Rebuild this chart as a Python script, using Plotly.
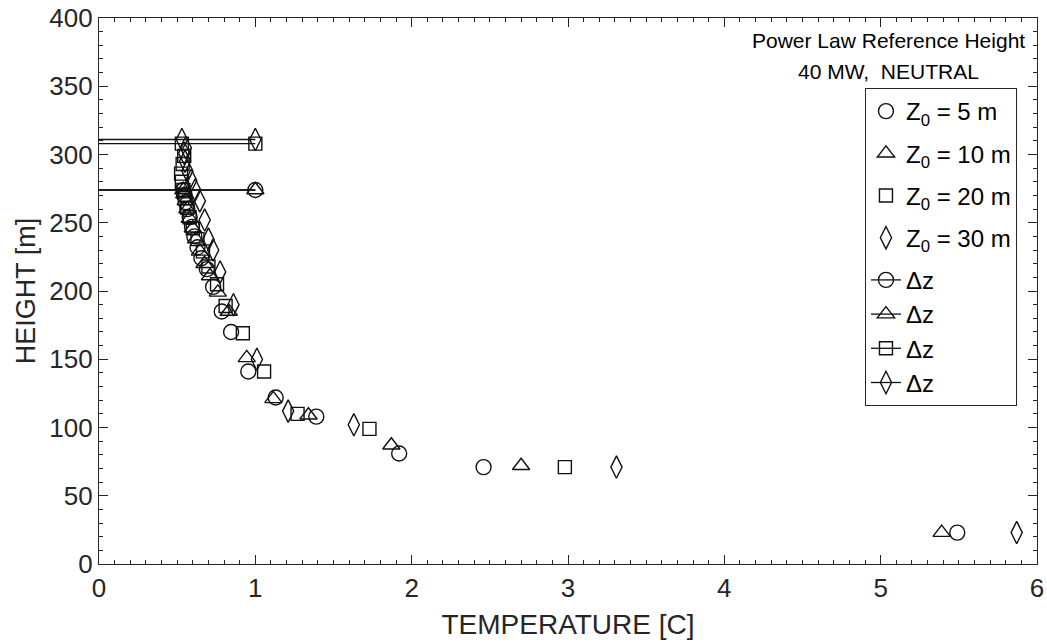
import plotly.graph_objects as go

# ---------------- data ----------------
z5_temp = [5.49, 2.46, 1.92, 1.39, 1.13, 0.955, 0.845, 0.785, 0.73, 0.69, 0.655,
           0.63, 0.61, 0.595, 0.58, 0.565, 0.555, 0.545, 0.54]
z5_height = [23, 71, 81, 108, 122, 141, 170, 185, 203, 216, 224,
             232, 240, 247, 254, 260, 265, 270, 274]

z10_temp = [5.39, 2.70, 1.87, 1.34, 1.115, 0.945, 0.83, 0.76, 0.71, 0.675, 0.645,
            0.62, 0.60, 0.58, 0.565, 0.555, 0.545, 0.54]
z10_height = [23, 72, 87, 109, 121, 151, 185, 199, 211, 220, 229,
              238, 246, 253, 260, 266, 271, 274]

z20_temp = [2.98, 1.73, 1.27, 1.056, 0.92, 0.81, 0.755, 0.70, 0.665, 0.63, 0.60,
            0.58, 0.565, 0.55, 0.54, 0.53, 0.525, 0.535, 0.545, 0.53]
z20_height = [71, 99, 110, 141, 169, 189, 205, 218, 229, 238, 246,
              254, 261, 268, 274, 280, 286, 293, 299, 308]

z30_temp = [5.87, 3.31, 1.63, 1.21, 1.01, 0.86, 0.775, 0.73, 0.70, 0.676, 0.645,
            0.615, 0.59, 0.565, 0.55, 0.545, 0.555, 0.53]
z30_height = [23, 71, 102, 112, 150, 190, 214, 230, 238, 252, 266,
              274, 281, 288, 295, 301, 305, 311]

# reference-height (delta z) lines: from T=0 to T=1 at each series' top height
dz_temp = [0, 1]
dz_heights = [274, 274, 308, 311]

series_names = ["Z<sub>0</sub> = 5 m", "Z<sub>0</sub> = 10 m",
                "Z<sub>0</sub> = 20 m", "Z<sub>0</sub> = 30 m"]
dz_name = "Δz"
annot_lines = ["Power Law Reference Height", "40 MW,\u00a0 NEUTRAL"]

x_ticks = [0, 1, 2, 3, 4, 5, 6]
y_ticks = [0, 50, 100, 150, 200, 250, 300, 350, 400]

# ---------------- styling ----------------
INK = "#262626"
MK = "#111111"
symbols = ["circle-open", "triangle-up-open", "square-open", "diamond-tall-open"]
sizes = [15, 15, 13, 16]
FONT = "Liberation Sans, Arial, Helvetica, sans-serif"

fig = go.Figure()

temps = [z5_temp, z10_temp, z20_temp, z30_temp]
heights = [z5_height, z10_height, z20_height, z30_height]
groups = ["a", "b", "c", "d"]

for t, h, name, sym, sz, g in zip(temps, heights, series_names, symbols, sizes, groups):
    fig.add_trace(go.Scatter(
        x=t, y=h, mode="markers", name=name, legendgroup=g,
        marker=dict(symbol=sym, size=sz, color=MK, line=dict(color=MK, width=1.4)),
    ))

for h, sym, sz in zip(dz_heights, symbols, sizes):
    fig.add_trace(go.Scatter(
        x=dz_temp, y=[h, h], mode="lines", showlegend=False, legendgroup="e",
        line=dict(color=MK, width=1.3), hoverinfo="skip",
    ))
    fig.add_trace(go.Scatter(
        x=dz_temp[-1:], y=[h], mode="lines+markers", name=dz_name, legendgroup="e",
        line=dict(color=MK, width=1.3),
        marker=dict(symbol=sym, size=sz, color=MK, line=dict(color=MK, width=1.4)),
    ))

axis_common = dict(
    showline=True, linecolor=INK, linewidth=1.2, mirror="allticks",
    ticks="inside", ticklen=9, tickwidth=1.1, tickcolor=INK,
    showgrid=False, zeroline=False,
    tickfont=dict(family=FONT, size=26, color=INK),
    minor=dict(ticks="inside", ticklen=4, tickwidth=1, tickcolor=INK, showgrid=False),
)

fig.update_xaxes(
    range=[0, 6], tickmode="array", tickvals=x_ticks, ticktext=[str(v) for v in x_ticks],
    minor_dtick=0.1, minor_tick0=0, ticklabelstandoff=1,
    title=dict(text="TEMPERATURE [C]", font=dict(family=FONT, size=28, color=INK), standoff=12),
    **axis_common,
)
fig.update_yaxes(
    range=[0, 400], tickmode="array", tickvals=y_ticks, ticktext=[str(v) for v in y_ticks],
    minor_dtick=10, minor_tick0=0, ticklabelstandoff=0,
    title=dict(text="HEIGHT [m]", font=dict(family=FONT, size=27, color=INK), standoff=5),
    **axis_common,
)

fig.add_annotation(x=0.8412, y=0.9597, xref="paper", yref="paper", text=annot_lines[0],
                   showarrow=False, xanchor="center", yanchor="middle",
                   font=dict(family=FONT, size=21, color="#000000"))
fig.add_annotation(x=0.8412, y=0.9011, xref="paper", yref="paper", text=annot_lines[1],
                   showarrow=False, xanchor="center", yanchor="middle",
                   font=dict(family=FONT, size=21, color="#000000"))

fig.update_layout(
    width=1047, height=644,
    margin=dict(l=99, r=10, t=18, b=80, autoexpand=False),
    paper_bgcolor="white", plot_bgcolor="white",
    showlegend=True,
    legend=dict(
        x=0.8166, y=0.8718, xanchor="left", yanchor="top",
        bgcolor="white", bordercolor=INK, borderwidth=1,
        font=dict(family=FONT, size=24, color="#000000"),
        tracegroupgap=8, itemwidth=30,
    ),
    font=dict(family=FONT, color=INK),
)

fig.write_html("out.html", config={"displayModeBar": False},
               post_script="document.body.style.margin='0px';")
